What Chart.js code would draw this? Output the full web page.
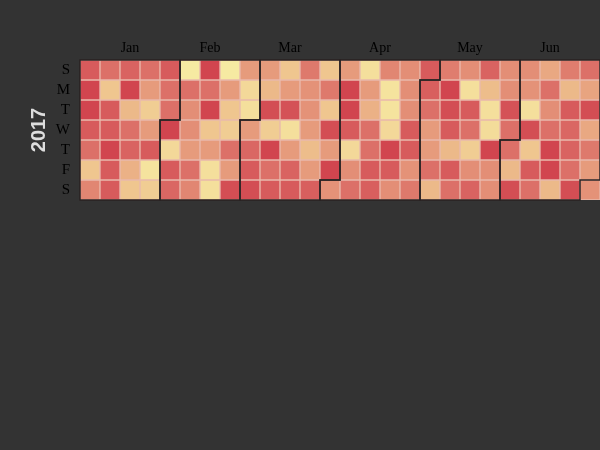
<!DOCTYPE html>
<html>
<head>
<meta charset="utf-8">
<script src="https://cdn.jsdelivr.net/npm/chart.js@4"></script>
<style>
    html, body { margin: 0; padding: 0; background: #333333; }
    #wrap { width: 600px; height: 450px; position: relative; }
</style>
</head>
<body>
<div id="wrap"><canvas id="calendarChart"></canvas></div>
<script>
    const year = 2017;
    const dayLabels = ['S', 'M', 'T', 'W', 'T', 'F', 'S'];
    const monthNames = ['Jan', 'Feb', 'Mar', 'Apr', 'May', 'Jun'];
    // one value per day from Jan 1 (a Sunday), 7 per week column, 1 = low .. 5 = high
    const dailyValues = [
        4.5, 5, 5, 4.5, 4, 2, 3.5,
        4, 2, 4.5, 4.5, 5, 4.5, 4.5,
        4.3, 5, 2.3, 4, 4.3, 2.5, 2,
        4, 3, 1.8, 3, 4.5, 1.2, 1.8,
        4.5, 4, 4, 5, 1.5, 4.5, 4.2,
        1, 4, 3.3, 3.3, 3, 4, 3.5,
        5, 4, 5, 2, 3, 1.3, 1.3,
        1, 3, 2, 1.8, 4, 3, 4.8,
        3, 1.5, 1.3, 3, 4.2, 4.5, 4.8,
        3, 2.3, 4.8, 1.8, 5, 4, 4.5,
        2, 3, 4.7, 1.3, 3, 4.3, 4.5,
        3.8, 3.2, 3.2, 3, 2.2, 3, 4.4,
        2, 3.8, 2, 4.8, 3, 5, 3.2,
        3, 5, 5, 4.5, 1.5, 3.3, 4,
        1.3, 3, 2.5, 4, 4, 4.5, 4.4,
        3.5, 1.2, 1.2, 1.5, 5, 4.5, 3.3,
        3.3, 3.3, 3.3, 4.5, 4.5, 3.2, 3.8,
        4.5, 4.4, 4, 3, 3, 4, 2.3,
        3.7, 5, 4.8, 4.5, 2.3, 4.5, 4,
        3.3, 1.3, 4.5, 4, 1.8, 3.3, 4.3,
        4.3, 2.2, 1.3, 1.4, 5, 3.3, 3.3,
        3.3, 3.3, 4.7, 4, 4, 2.3, 4.8,
        3.3, 3.2, 1.3, 4.8, 2, 4.5, 4,
        2.7, 4, 3.3, 4, 5, 5, 2.3,
        3.7, 2.3, 4.5, 4.2, 4.3, 4, 4.8,
        4, 2.8, 4.8, 2.7, 3.8, 3, 3.2
    ];
    const colorStops = ['#f6eaa2', '#efc68f', '#e69b7c', '#dc7068', '#d1454f'];

    const weekCount = Math.ceil(dailyValues.length / 7);
    const weekLabels = Array.from({length: weekCount}, (_, i) => String(i + 1));

    function hexToRgb(h) {
        return [1, 3, 5].map(i => parseInt(h.slice(i, i + 2), 16));
    }

    function heatColor(v) {
        const t = Math.min(Math.max((v - 1) / 4, 0), 1) * (colorStops.length - 1);
        const i = Math.min(Math.floor(t), colorStops.length - 2);
        const f = t - i;
        const a = hexToRgb(colorStops[i]), b = hexToRgb(colorStops[i + 1]);
        const c = a.map((x, k) => Math.round(x + (b[k] - x) * f));
        return 'rgb(' + c.join(',') + ')';
    }

    function dayIndex(date) {
        return Math.round((date - new Date(year, 0, 1)) / 86400000);
    }

    // one stacked dataset per weekday row
    const datasets = dayLabels.map((d, day) => ({
        label: d,
        data: weekLabels.map((_, w) => (w * 7 + day < dailyValues.length ? 1 : null)),
        backgroundColor: weekLabels.map((_, w) => heatColor(dailyValues[w * 7 + day])),
        borderColor: 'rgba(252, 200, 185, 0.9)',
        borderWidth: 1,
        borderSkipped: false,
        barPercentage: 1,
        categoryPercentage: 1
    }));

    // month spans in week columns
    const months = monthNames.map((name, m) => {
        const first = dayIndex(new Date(year, m, 1));
        const last = dayIndex(new Date(year, m + 1, 0));
        return {name: name, w0: Math.floor(first / 7), d0: first % 7, w1: Math.floor(last / 7), d1: last % 7};
    });

    const monthOutline = {
        id: 'monthOutline',
        afterDatasetsDraw(chart) {
            const ctx = chart.ctx;
            const x = chart.scales.x, y = chart.scales.y;
            const half = (x.getPixelForValue(1) - x.getPixelForValue(0)) / 2;
            const px = w => x.getPixelForValue(w) - half;
            const py = d => y.getPixelForValue(d);
            ctx.save();
            ctx.strokeStyle = '#2a2222';
            ctx.lineWidth = 1.5;
            months.forEach(m => {
                ctx.beginPath();
                ctx.moveTo(px(m.w0 + 1), py(m.d0));
                ctx.lineTo(px(m.w0), py(m.d0));
                ctx.lineTo(px(m.w0), py(7));
                ctx.lineTo(px(m.w1), py(7));
                ctx.lineTo(px(m.w1), py(m.d1 + 1));
                ctx.lineTo(px(m.w1 + 1), py(m.d1 + 1));
                ctx.lineTo(px(m.w1 + 1), py(0));
                ctx.lineTo(px(m.w0 + 1), py(0));
                ctx.closePath();
                ctx.stroke();
            });

            // month names centred over their week span
            ctx.fillStyle = '#000000';
            ctx.font = '14px "Liberation Serif", serif';
            ctx.textAlign = 'center';
            ctx.textBaseline = 'alphabetic';
            months.forEach(m => {
                ctx.fillText(m.name, (px(m.w0) + px(m.w1 + 1)) / 2, chart.chartArea.top - 8);
            });
            ctx.restore();
        }
    };

    const ctx = document.getElementById('calendarChart').getContext('2d');
    const calendarChart = new Chart(ctx, {
        type: 'bar',
        data: {
            labels: weekLabels,
            datasets: datasets
        },
        options: {
            responsive: true,
            maintainAspectRatio: false,
            animation: false,
            layout: {
                padding: {top: 60, right: 0, bottom: 250, left: 0}
            },
            plugins: {
                legend: {display: false},
                tooltip: {enabled: false}
            },
            scales: {
                x: {
                    stacked: true,
                    display: false
                },
                y: {
                    stacked: true,
                    reverse: true,
                    min: 0,
                    max: 7,
                    grid: {display: false, drawTicks: false},
                    border: {display: false},
                    afterBuildTicks: scale => {
                        scale.ticks = dayLabels.map((_, i) => ({value: i + 0.5}));
                    },
                    afterFit: scale => {
                        scale.width = 80;
                    },
                    ticks: {
                        autoSkip: false,
                        padding: 10,
                        color: '#000000',
                        font: {family: '"Liberation Serif", serif', size: 15},
                        callback: (v, i) => dayLabels[i]
                    },
                    title: {
                        display: true,
                        text: String(year),
                        color: '#dddddd',
                        padding: {top: 27, bottom: 0},
                        font: {family: '"Liberation Sans", Arial, sans-serif', size: 20, weight: 'bold'}
                    }
                }
            }
        },
        plugins: [monthOutline]
    });
</script>
</body>
</html>
